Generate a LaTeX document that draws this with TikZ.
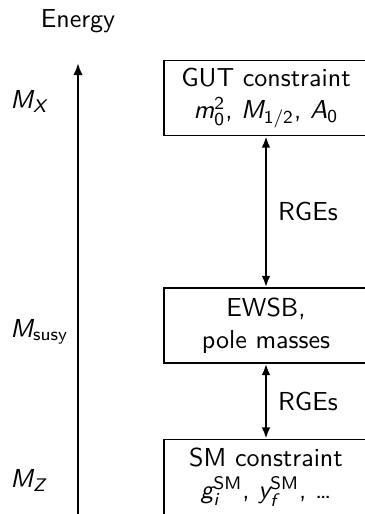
\documentclass[tikz,border=0pt]{standalone}
\usepackage{amsmath}
\usetikzlibrary{arrows.meta}
\newcommand{\vv}[1]{\text{\itshape #1}}
\newcommand{\uu}[1]{\text{\upshape #1}}
\begin{document}
\begin{tikzpicture}[x=0.4pt,y=-0.4pt,
  every node/.style={font=\fontsize{10.4pt}{12.8pt}\selectfont\sffamily},
  box/.style={draw,line width=0.55pt,minimum width=204*0.4pt,minimum height=75*0.4pt,align=center,inner sep=0pt},
  lbl/.style={inner sep=0pt},
  axis/.style={line width=0.9pt,-{Latex[length=4.8pt,width=3.8pt]}},
  rge/.style={line width=0.9pt,{Latex[length=4.6pt,width=3.5pt]}-{Latex[length=4.6pt,width=3.5pt]}}]
\useasboundingbox (0,0) rectangle (365,514);
\node[lbl,anchor=base] (en) at (78,27.5) {Energy};
\coordinate (axb) at (78,530);
\coordinate (axt) at (78,63);
\draw[axis] (axb) -- (axt);
\node[lbl,anchor=base west] (mx) at (10,108) {$\vv{M}_{\vv{X}}$};
\node[lbl,anchor=base west] (ms) at (10,337) {$\vv{M}_{\uu{susy}}$};
\node[lbl,anchor=base west] (mz) at (10,487) {$\vv{M}_{\vv{Z}}$};
\node[box] (gut) at (266,98) {GUT constraint\\$\vv{m}_{\uu{0}}^{\uu{2}}$, $\vv{M}_{\uu{1/2}}$, $\vv{A}_{\uu{0}}$};
\node[box] (ewsb) at (266,325.5) {EWSB,\\pole masses};
\node[box] (sm) at (266,477) {SM constraint\\$\vv{g}_{\vv{i}}^{\uu{SM}}$, $\vv{y}_{\vv{f}}^{\uu{SM}}$, \dots};
\draw[rge] (gut) -- (ewsb) node[midway,anchor=west,inner sep=0pt,xshift=11*0.4pt] (r1) {RGEs};
\draw[rge] (ewsb) -- (sm) node[midway,anchor=west,inner sep=0pt,xshift=11*0.4pt] (r2) {RGEs};
\end{tikzpicture}
\end{document}
